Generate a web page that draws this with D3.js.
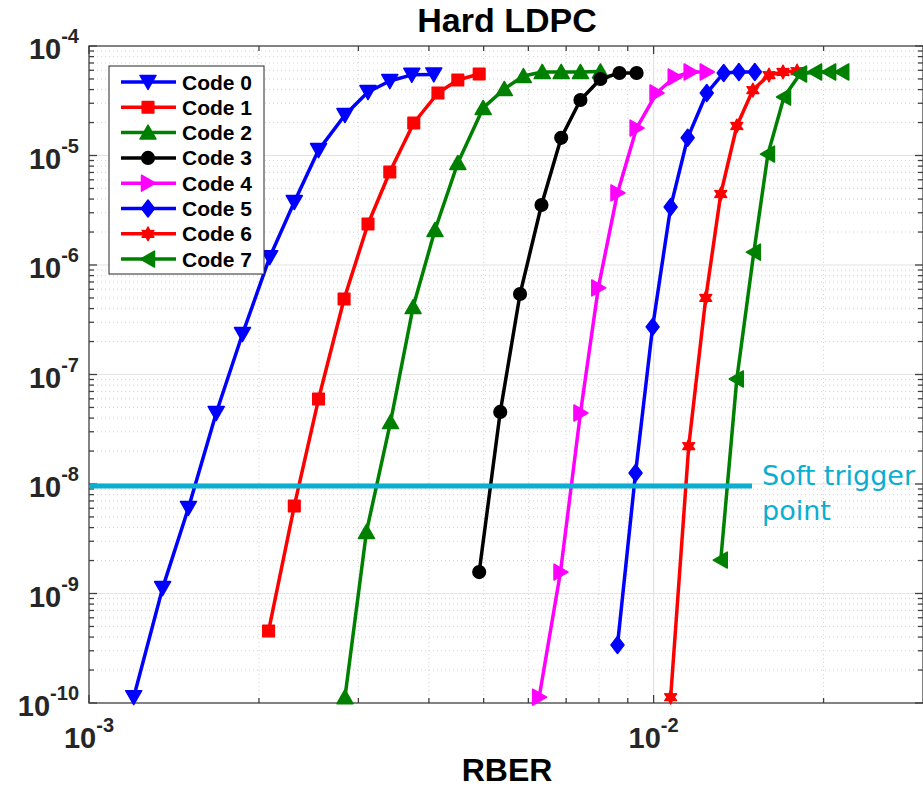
<!DOCTYPE html>
<head>
  <meta charset="utf-8">
  <script src="https://d3js.org/d3.v7.min.js"></script>
  <style>
    body { margin:0; background:white; }
    .tick-label { font-family: 'Liberation Sans', Arial, sans-serif; font-weight: bold; fill: #262626; }
    .title, .axis-title { font-family: 'Liberation Sans', Arial, sans-serif; font-weight: bold; fill: #000; }
    .legend-text { font-family: 'Liberation Sans', Arial, sans-serif; font-weight: bold; font-size: 21px; fill: #000; }
    .trigger-text { font-family: 'DejaVu Sans', Verdana, sans-serif; font-size: 27px; fill: #0aaed0; }
  </style>
</head>
<body>
<script>
// RBER (x) and frame error rate (y), one pair per code
const codeNames = ['Code 0', 'Code 1', 'Code 2', 'Code 3', 'Code 4', 'Code 5', 'Code 6', 'Code 7'];

const c0x = [1.20e-3, 1.35e-3, 1.50e-3, 1.68e-3, 1.87e-3, 2.09e-3, 2.31e-3, 2.55e-3, 2.84e-3, 3.12e-3, 3.41e-3, 3.73e-3, 4.08e-3];
const c0y = [1.13e-10, 1.12e-9, 6.04e-9, 4.45e-8, 2.34e-7, 1.18e-6, 3.76e-6, 1.12e-5, 2.34e-5, 3.80e-5, 4.79e-5, 5.45e-5, 5.5e-5];

const c1x = [2.08e-3, 2.31e-3, 2.55e-3, 2.83e-3, 3.12e-3, 3.41e-3, 3.76e-3, 4.15e-3, 4.50e-3, 4.91e-3];
const c1y = [4.55e-10, 6.30e-9, 5.97e-8, 4.89e-7, 2.37e-6, 7.07e-6, 1.98e-5, 3.72e-5, 4.89e-5, 5.55e-5];

const c2x = [2.84e-3, 3.10e-3, 3.42e-3, 3.75e-3, 4.10e-3, 4.50e-3, 4.99e-3, 5.44e-3, 5.88e-3, 6.35e-3, 6.86e-3, 7.42e-3, 8.05e-3];
const c2y = [1.13e-10, 3.65e-9, 3.68e-8, 4.13e-7, 2.09e-6, 8.55e-6, 2.72e-5, 4.05e-5, 5.32e-5, 5.79e-5, 5.79e-5, 5.79e-5, 5.85e-5];

const c3x = [4.91e-3, 5.35e-3, 5.80e-3, 6.33e-3, 6.86e-3, 7.42e-3, 8.05e-3, 8.70e-3, 9.33e-3];
const c3y = [1.57e-9, 4.55e-8, 5.43e-7, 3.53e-6, 1.45e-5, 3.21e-5, 5.00e-5, 5.67e-5, 5.67e-5];

const c4x = [6.27e-3, 6.84e-3, 7.42e-3, 7.98e-3, 8.63e-3, 9.33e-3, 1.012e-2, 1.090e-2, 1.163e-2, 1.242e-2];
const c4y = [1.13e-10, 1.57e-9, 4.45e-8, 6.17e-7, 4.55e-6, 1.78e-5, 3.72e-5, 5.21e-5, 5.79e-5, 5.79e-5];

const c5x = [8.63e-3, 9.29e-3, 9.96e-3, 1.072e-2, 1.149e-2, 1.242e-2, 1.331e-2, 1.416e-2, 1.511e-2];
const c5y = [3.39e-10, 1.26e-8, 2.72e-7, 3.39e-6, 1.45e-5, 3.72e-5, 5.67e-5, 5.79e-5, 5.79e-5];

const c6x = [1.072e-2, 1.154e-2, 1.237e-2, 1.315e-2, 1.404e-2, 1.499e-2, 1.601e-2, 1.695e-2, 1.795e-2];
const c6y = [1.13e-10, 2.22e-8, 5.00e-7, 4.45e-6, 1.86e-5, 3.96e-5, 5.43e-5, 5.79e-5, 5.9e-5];

const c7x = [1.315e-2, 1.404e-2, 1.505e-2, 1.594e-2, 1.702e-2, 1.817e-2, 1.932e-2, 2.046e-2, 2.158e-2];
const c7y = [2.02e-9, 9.10e-8, 1.31e-6, 1.03e-5, 3.42e-5, 5.55e-5, 5.79e-5, 5.79e-5, 5.79e-5];

const triggerLevel = 1e-8;
const xTickValues = [1e-3, 1e-2];
const yTickValues = [1e-10, 1e-9, 1e-8, 1e-7, 1e-6, 1e-5, 1e-4];

// styling for each code (matlab-ish colours / markers)
const colors = ['#0000ff', '#ff0000', '#008000', '#000000', '#ff00ff', '#0000ff', '#ff0000', '#008000'];
const markers = ['v', 's', '^', 'o', '>', 'd', 'h', '<'];
const xs = [c0x, c1x, c2x, c3x, c4x, c5x, c6x, c7x];
const ys = [c0y, c1y, c2y, c3y, c4y, c5y, c6y, c7y];

const series = codeNames.map((name, i) => ({
  name: name,
  color: colors[i],
  marker: markers[i],
  points: xs[i].map((v, j) => ({ x: v, y: ys[i][j] }))
}));

const W = 923, H = 789;
const mLeft = 89, mRight = 923, mTop = 46, mBottom = 703;

const x = d3.scaleLog().domain([1e-3, 3e-2]).range([mLeft, mRight]);
const y = d3.scaleLog().domain([1e-10, 1e-4]).range([mBottom, mTop]);

const svg = d3.select('body').append('svg')
  .attr('width', W).attr('height', H)
  .style('display', 'block');

// marker shapes, centred at 0,0
function markerPath(type) {
  const t = 8;
  switch (type) {
    case 'v': return `M${-t},${-6.5}L${t},${-6.5}L0,${7.5}Z`;
    case '^': return `M${-t},${6.5}L${t},${6.5}L0,${-7.5}Z`;
    case '>': return `M${-6.5},${-t}L${-6.5},${t}L${7.5},0Z`;
    case '<': return `M${6.5},${-t}L${6.5},${t}L${-7.5},0Z`;
    case 's': return 'M-5.8,-5.8L5.8,-5.8L5.8,5.8L-5.8,5.8Z';
    case 'd': return 'M0,-8.5L6.5,0L0,8.5L-6.5,0Z';
    case 'o': return d3.symbol().type(d3.symbolCircle).size(Math.PI * 40)();
    case 'h': {
      let p = '';
      for (let k = 0; k < 12; k++) {
        const r = k % 2 === 0 ? 6.8 : 3.6;
        const a = -Math.PI / 2 + k * Math.PI / 6;
        p += (k ? 'L' : 'M') + (r * Math.cos(a)).toFixed(2) + ',' + (r * Math.sin(a)).toFixed(2);
      }
      return p + 'Z';
    }
  }
}

// grid
const grid = svg.append('g');
const xMinor = [];
[1e-3, 1e-2].forEach(d => { for (let k = 2; k <= 9; k++) if (d * k < 3e-2) xMinor.push(d * k); });
const yMinor = [];
for (let e = -10; e < -4; e++) for (let k = 2; k <= 9; k++) yMinor.push(k * Math.pow(10, e));

grid.selectAll('.xminor').data(xMinor).enter().append('line')
  .attr('x1', d => x(d)).attr('x2', d => x(d)).attr('y1', mTop).attr('y2', mBottom)
  .attr('stroke', '#d4d4d4').attr('stroke-width', 1).attr('stroke-dasharray', '1,3');
grid.selectAll('.yminor').data(yMinor).enter().append('line')
  .attr('x1', mLeft).attr('x2', mRight).attr('y1', d => y(d)).attr('y2', d => y(d))
  .attr('stroke', '#d4d4d4').attr('stroke-width', 1).attr('stroke-dasharray', '1,3');
grid.selectAll('.xmajor').data([1e-2]).enter().append('line')
  .attr('x1', d => x(d)).attr('x2', d => x(d)).attr('y1', mTop).attr('y2', mBottom)
  .attr('stroke', '#e3e3e3').attr('stroke-width', 1.2);
grid.selectAll('.ymajor').data(yTickValues.slice(1, -1)).enter().append('line')
  .attr('x1', mLeft).attr('x2', mRight).attr('y1', d => y(d)).attr('y2', d => y(d))
  .attr('stroke', '#e3e3e3').attr('stroke-width', 1.2);

// axes box with inward ticks
const axisG = svg.append('g').attr('stroke', '#404040').attr('stroke-width', 1.3);
axisG.append('rect').attr('x', mLeft).attr('y', mTop).attr('width', mRight - mLeft).attr('height', mBottom - mTop)
  .attr('fill', 'none');
xMinor.concat(xTickValues).forEach(d => {
  const len = xTickValues.includes(d) ? 8 : 5;
  axisG.append('line').attr('x1', x(d)).attr('x2', x(d)).attr('y1', mBottom).attr('y2', mBottom - len);
  axisG.append('line').attr('x1', x(d)).attr('x2', x(d)).attr('y1', mTop).attr('y2', mTop + len);
});
yMinor.concat(yTickValues).forEach(d => {
  const len = yTickValues.includes(d) ? 8 : 5;
  axisG.append('line').attr('x1', mLeft).attr('x2', mLeft + len).attr('y1', y(d)).attr('y2', y(d));
  axisG.append('line').attr('x1', mRight).attr('x2', mRight - len).attr('y1', y(d)).attr('y2', y(d));
});

// tick labels 10^n
function expLabel(sel, v) {
  sel.append('tspan').text('10').attr('font-size', 29);
  sel.append('tspan').text(Math.round(Math.log10(v))).attr('font-size', 20).attr('dy', -16);
}
yTickValues.forEach(v => {
  const t = svg.append('text').attr('class', 'tick-label')
    .attr('x', 79).attr('y', y(v) + 13).attr('text-anchor', 'end');
  expLabel(t, v);
});
xTickValues.forEach(v => {
  const t = svg.append('text').attr('class', 'tick-label')
    .attr('x', x(v)).attr('y', 748).attr('text-anchor', 'middle');
  expLabel(t, v);
});

// titles
svg.append('text').attr('class', 'title').attr('x', 507).attr('y', 32)
  .attr('text-anchor', 'middle').attr('font-size', 34).text('Hard LDPC');
svg.append('text').attr('class', 'axis-title').attr('x', 507).attr('y', 781)
  .attr('text-anchor', 'middle').attr('font-size', 32).text('RBER');

// curves
const line = d3.line().x(d => x(d.x)).y(d => y(d.y));
const curves = svg.append('g').selectAll('g').data(series).enter().append('g');
curves.append('path')
  .attr('d', d => line(d.points))
  .attr('fill', 'none').attr('stroke', d => d.color).attr('stroke-width', 3.5)
  .attr('stroke-linejoin', 'round');
curves.each(function(s) {
  d3.select(this).selectAll('.mk').data(s.points).enter().append('path')
    .attr('d', markerPath(s.marker))
    .attr('transform', d => `translate(${x(d.x)},${y(d.y)})`)
    .attr('fill', s.color).attr('stroke', s.color).attr('stroke-width', 1.5)
    .attr('stroke-linejoin', 'round');
});

// soft trigger line and note
svg.append('line')
  .attr('x1', mLeft + 1).attr('x2', 752).attr('y1', y(triggerLevel) + 2).attr('y2', y(triggerLevel) + 2)
  .attr('stroke', '#0aaed0').attr('stroke-width', 5);
const note = svg.append('text').attr('class', 'trigger-text').attr('x', 762).attr('y', 485);
note.append('tspan').attr('x', 762).text('Soft trigger');
note.append('tspan').attr('x', 762).attr('dy', 35).text('point');

// legend
const legend = svg.append('g');
legend.append('rect').attr('x', 109).attr('y', 66).attr('width', 155).attr('height', 208)
  .attr('fill', 'white').attr('stroke', '#262626').attr('stroke-width', 1);
const rows = legend.selectAll('.row').data(series).enter().append('g')
  .attr('transform', (d, i) => `translate(0, ${82 + i * 25.3})`);
rows.append('line').attr('x1', 121).attr('x2', 176)
  .attr('stroke', d => d.color).attr('stroke-width', 3.5);
rows.append('path').attr('d', d => markerPath(d.marker))
  .attr('transform', 'translate(148,0)')
  .attr('fill', d => d.color).attr('stroke', d => d.color).attr('stroke-width', 1.5)
  .attr('stroke-linejoin', 'round');
rows.append('text').attr('class', 'legend-text').attr('x', 182).attr('dy', '0.36em')
  .text(d => d.name);
</script>
</body>
